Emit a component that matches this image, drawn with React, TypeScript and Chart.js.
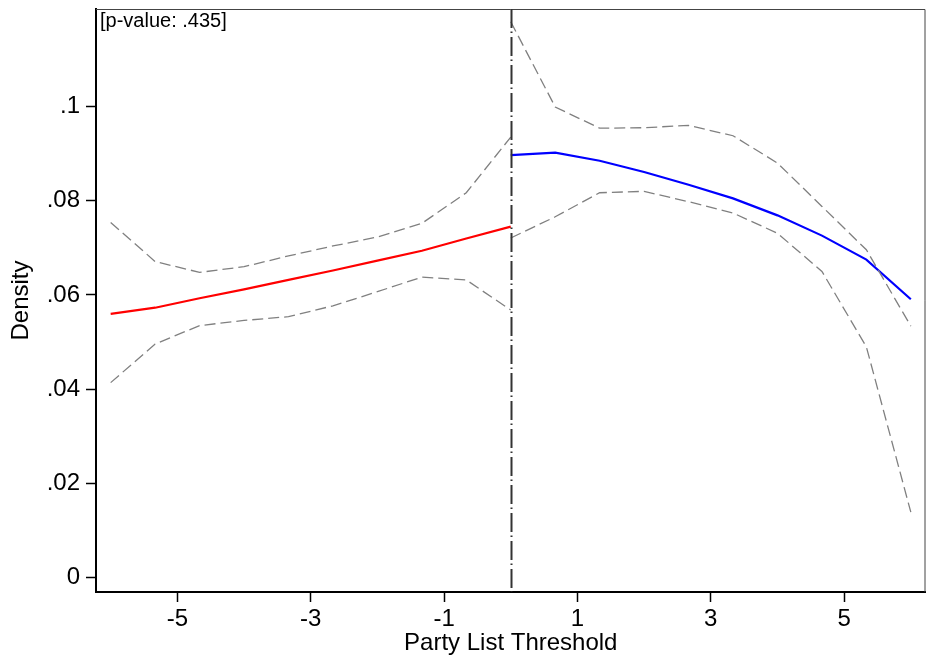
import React, { useEffect, useRef } from 'react';
import { Chart, registerables } from 'chart.js';

Chart.register(...registerables);

// bins on each side of the cutoff
const xLeft = [-6, -5.333, -4.667, -4, -3.333, -2.667, -2, -1.333, -0.667, 0];
const xRight = [0, 0.667, 1.333, 2, 2.667, 3.333, 4, 4.667, 5.333, 6];

// fitted density and 95% bands, left of cutoff
const fitLeft = [0.056, 0.0573, 0.0593, 0.0612, 0.0632, 0.0652, 0.0673, 0.0694, 0.072, 0.0745];
const upperLeft = [0.0754, 0.0671, 0.0648, 0.066, 0.0683, 0.0704, 0.0723, 0.0752, 0.0817, 0.0935];
const lowerLeft = [0.0414, 0.0496, 0.0535, 0.0546, 0.0554, 0.0577, 0.0607, 0.0638, 0.0632, 0.0568];

// right of cutoff
const fitRight = [0.0897, 0.0902, 0.0885, 0.0861, 0.0834, 0.0805, 0.0769, 0.0726, 0.0675, 0.0591];
const upperRight = [0.118, 0.0999, 0.0954, 0.0955, 0.096, 0.0938, 0.088, 0.0788, 0.0696, 0.0534];
const lowerRight = [0.0721, 0.0766, 0.0817, 0.082, 0.0798, 0.0774, 0.0731, 0.065, 0.049, 0.0139];

const xTicks = [-5, -3, -1, 1, 3, 5];
const yTicks = [0, 0.02, 0.04, 0.06, 0.08, 0.1];

const pValueLabel = '[p-value: .435]';
const cutoff = 0;

const FONT = '"Liberation Sans", Arial, sans-serif';

const pts = (xs: number[], ys: number[]) => xs.map((x, i) => ({ x, y: ys[i] }));

const fitLine = (data: { x: number; y: number }[], color: string) => ({
  data,
  borderColor: color,
  borderWidth: 2.2,
  pointRadius: 0,
  tension: 0,
  fill: false,
});

const ciLine = (data: { x: number; y: number }[]) => ({
  data,
  borderColor: '#808080',
  borderWidth: 1.3,
  borderDash: [11, 5],
  pointRadius: 0,
  tension: 0,
  fill: false,
});

// frame, cutoff line and p-value note
const decorations = {
  id: 'decorations',
  afterDatasetsDraw(chart: any) {
    const { ctx, chartArea, scales } = chart;
    const { left, right, top, bottom } = chartArea;
    ctx.save();

    // top/right frame
    ctx.strokeStyle = '#444';
    ctx.lineWidth = 1;
    ctx.beginPath();
    ctx.moveTo(left, top + 0.5);
    ctx.lineTo(right - 0.5, top + 0.5);
    ctx.lineTo(right - 0.5, bottom);
    ctx.stroke();

    // cutoff
    const cx = Math.round(scales.x.getPixelForValue(cutoff)) + 0.5;
    ctx.strokeStyle = '#333';
    ctx.lineWidth = 2;
    ctx.setLineDash([19, 3.5, 1.5, 4]);
    ctx.beginPath();
    ctx.moveTo(cx, top);
    ctx.lineTo(cx, bottom);
    ctx.stroke();
    ctx.setLineDash([]);

    ctx.fillStyle = '#000';
    ctx.font = `20px ${FONT}`;
    ctx.textBaseline = 'top';
    ctx.textAlign = 'left';
    ctx.fillText(pValueLabel, left + 4, top + 2);
    ctx.restore();
  },
};

export default function App() {
  const chartRef = useRef<HTMLCanvasElement>(null);
  const chartInstance = useRef<Chart | null>(null);

  useEffect(() => {
    document.body.style.margin = '0';
    if (!chartRef.current) return;
    if (chartInstance.current) chartInstance.current.destroy();

    const ctx = chartRef.current.getContext('2d');
    if (!ctx) return;

    chartInstance.current = new Chart(ctx, {
      type: 'line',
      data: {
        datasets: [
          ciLine(pts(xLeft, upperLeft)),
          ciLine(pts(xLeft, lowerLeft)),
          ciLine(pts(xRight, upperRight)),
          ciLine(pts(xRight, lowerRight)),
          fitLine(pts(xLeft, fitLeft), '#ff0000'),
          fitLine(pts(xRight, fitRight), '#0000ff'),
        ] as any,
      },
      options: {
        responsive: false,
        animation: false,
        layout: { padding: { top: 9, right: 1.5, left: 0, bottom: 0 } },
        plugins: {
          legend: { display: false },
          tooltip: { enabled: false },
        },
        scales: {
          x: {
            type: 'linear',
            min: -6.22,
            max: 6.22,
            afterFit: (scale: any) => {
              scale.height = 67;
              scale.paddingLeft = 0;
              scale.paddingRight = 0;
            },
            afterBuildTicks: (scale: any) => {
              scale.ticks = xTicks.map((v) => ({ value: v }));
            },
            border: { color: '#000', width: 2 },
            grid: { drawOnChartArea: false, tickLength: 10, color: '#000', tickWidth: 1.5 },
            ticks: {
              color: '#000',
              padding: 3,
              maxRotation: 0,
              font: { family: FONT, size: 24 },
              callback: (v: any) => String(v),
            },
            title: {
              display: true,
              text: 'Party List Threshold',
              color: '#000',
              font: { family: FONT, size: 24 },
              padding: { top: 0, bottom: 1 },
            },
          },
          y: {
            type: 'linear',
            min: -0.00304,
            max: 0.1207,
            afterFit: (scale: any) => {
              scale.width = 96;
              scale.paddingTop = 0;
              scale.paddingBottom = 0;
            },
            afterBuildTicks: (scale: any) => {
              scale.ticks = yTicks.map((v) => ({ value: v }));
            },
            border: { color: '#000', width: 2 },
            grid: { drawOnChartArea: false, tickLength: 10, color: '#000', tickWidth: 1.5 },
            ticks: {
              color: '#000',
              padding: 6,
              font: { family: FONT, size: 24 },
              callback: (v: any) => (v === 0 ? '0' : String(+Number(v).toFixed(2)).replace(/^0\./, '.')),
            },
            title: {
              display: true,
              text: 'Density',
              color: '#000',
              font: { family: FONT, size: 24 },
              padding: { top: 7, bottom: 0 },
            },
          },
        },
      },
      plugins: [decorations],
    });

    return () => {
      if (chartInstance.current) {
        chartInstance.current.destroy();
        chartInstance.current = null;
      }
    };
  }, []);

  return <canvas ref={chartRef} width={927} height={659}></canvas>;
}
